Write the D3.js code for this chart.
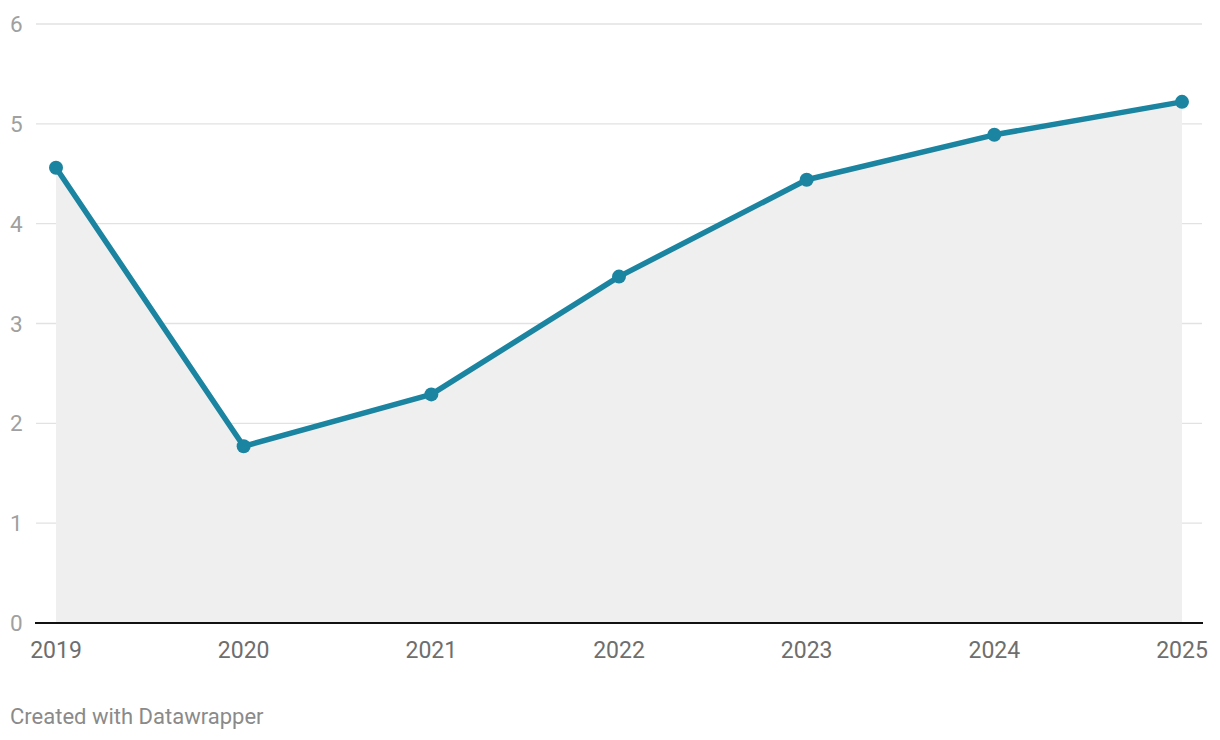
<!DOCTYPE html>
<html><head><meta charset="utf-8">
<script src="https://cdn.jsdelivr.net/npm/d3@7"></script>
<style>body{margin:0;background:#fff;font-family:Roboto,sans-serif;}</style>
</head><body><svg id="c" width="1220" height="740"></svg>
<script>
const years = ["2019","2020","2021","2022","2023","2024","2025"];
const values = [4.56, 1.77, 2.29, 3.47, 4.44, 4.89, 5.22];
const yTicks = [0,1,2,3,4,5,6];

const svg = d3.select("#c");
const x = d3.scalePoint().domain(years).range([56, 1182]);
const y = d3.scaleLinear().domain([0,6]).range([623, 24]);

// gridlines
svg.append("g").selectAll("line").data(yTicks.filter(d=>d>0)).join("line")
  .attr("x1",36).attr("x2",1202).attr("y1",d=>y(d)).attr("y2",d=>y(d))
  .attr("stroke","#e2e2e2").attr("stroke-width",1.4);
svg.append("g").selectAll("text").data(yTicks).join("text")
  .attr("x",10).attr("y",d=>y(d)+8).text(d=>d)
  .attr("font-size",22.5).attr("fill","#a0a0a0");

// area
const area = d3.area().x((d,i)=>x(years[i])).y0(y(0)).y1(d=>y(d));
svg.append("path").datum(values).attr("d",area).attr("fill","#efefef");

// baseline
svg.append("line").attr("x1",35).attr("x2",1203).attr("y1",y(0)).attr("y2",y(0))
  .attr("stroke","#111").attr("stroke-width",1.8);

// line
const line = d3.line().x((d,i)=>x(years[i])).y(d=>y(d));
svg.append("path").datum(values).attr("d",line).attr("fill","none")
  .attr("stroke","#1b84a0").attr("stroke-width",5.5).attr("stroke-linejoin","round");
svg.append("g").selectAll("circle").data(values).join("circle")
  .attr("cx",(d,i)=>x(years[i])).attr("cy",d=>y(d)).attr("r",7).attr("fill","#1b84a0");

// x labels
svg.append("g").selectAll("text").data(years).join("text")
  .attr("x",d=>x(d)).attr("y",658).attr("text-anchor","middle").text(d=>d)
  .attr("font-size",23).attr("fill","#6e6e6e");

svg.append("text").attr("x",10).attr("y",724).text("Created with Datawrapper")
  .attr("font-size",22).attr("fill","#8a8a8a");
</script></body></html>
